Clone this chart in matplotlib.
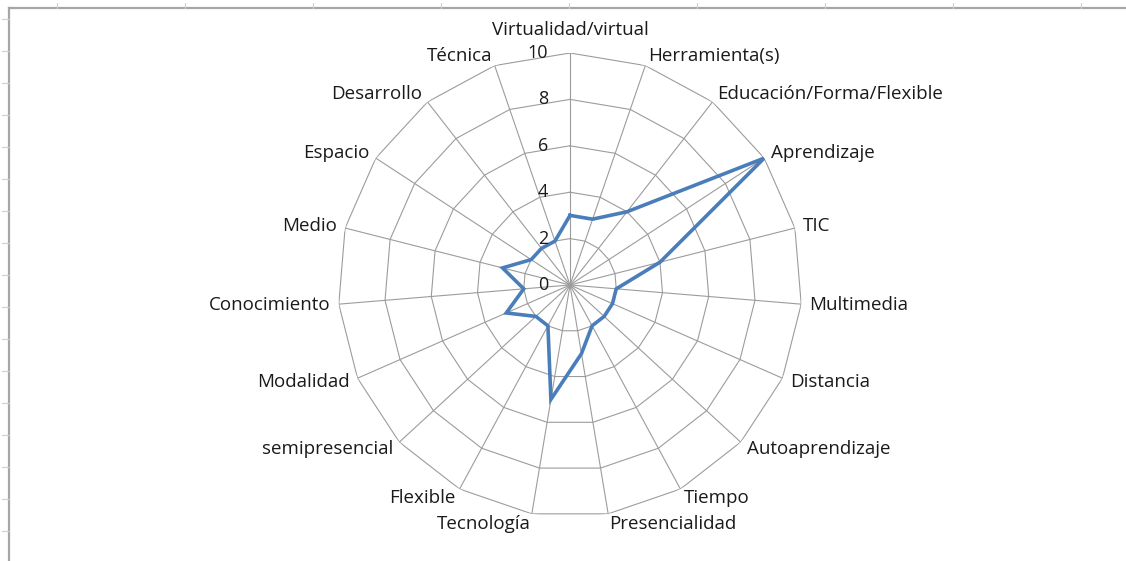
import numpy as np
import matplotlib
matplotlib.use("Agg")
import matplotlib.pyplot as plt
from matplotlib.lines import Line2D

plt.rcParams['font.family'] = ['Open Sans', 'DejaVu Sans']

categories = ["Virtualidad/virtual", "Herramienta(s)", "Educación/Forma/Flexible",
              "Aprendizaje", "TIC", "Multimedia", "Distancia", "Autoaprendizaje",
              "Tiempo", "Presencialidad", "Tecnología", "Flexible", "semipresencial",
              "Modalidad", "Conocimiento", "Medio", "Espacio", "Desarrollo", "Técnica"]
values = [3, 3, 4, 10, 4, 2, 2, 2, 2, 3, 5, 2, 2, 3, 2, 3, 2, 2, 2]
rings = [2, 4, 6, 8, 10]
ring_labels = ["0", "2", "4", "6", "8", "10"]

line_col = "#4a7ebb"
grid_col = "#9c9c9c"
text_col = "#1a1a1a"

n = len(categories)
theta = np.arange(n) * 2 * np.pi / n
theta_c = np.append(theta, theta[0])

fig = plt.figure(figsize=(11.26, 5.61), dpi=100)

# worksheet frame remnants
fig.add_artist(Line2D([9/1126, 1], [1 - 8/561] * 2, color="#a6a6a6", lw=1.6))
fig.add_artist(Line2D([9/1126] * 2, [0, 1 - 8/561], color="#a6a6a6", lw=1.6))
for ty in range(19, 561, 32):
    fig.add_artist(Line2D([2/1126, 9/1126], [1 - ty/561] * 2, color="#cfcfcf", lw=0.8))
for tx in range(57, 1126, 128):
    fig.add_artist(Line2D([tx/1126] * 2, [1 - 3/561, 1 - 8/561], color="#cfcfcf", lw=0.8))

R = 232
cx, cy = 570, 285
ax = fig.add_axes([(cx - R)/1126, (561 - cy - R)/561, 2*R/1126, 2*R/561], projection="polar")
ax.set_theta_zero_location("N")
ax.set_theta_direction(-1)
ax.set_ylim(0, 10)
ax.grid(False)
ax.set_xticks([])
ax.set_yticks([])
ax.spines["polar"].set_visible(False)
ax.patch.set_visible(False)

for r in rings:
    ax.plot(theta_c, [r] * (n + 1), color=grid_col, lw=0.8, zorder=1)
for t in theta:
    ax.plot([t, t], [0, 10], color=grid_col, lw=0.8, zorder=1)

ax.plot(theta_c, values + values[:1], color=line_col, lw=2.6, zorder=3,
        solid_joinstyle="miter")

for i, lab in enumerate(ring_labels):
    ax.annotate(lab, xy=(0, 2 * i), xytext=(-22, 0), textcoords="offset pixels",
                ha="right", va="center", fontsize=13, color=text_col)

for t, lab in zip(theta, categories):
    s, c = np.sin(t), np.cos(t)
    if abs(s) < 0.05:
        ha, va, off = "center", "bottom", (0, 14)
    else:
        ha = "left" if s > 0 else "right"
        va = "center"
        off = (8 * s, 10 * c)
    ax.annotate(lab, xy=(t, 10), xytext=off, textcoords="offset pixels",
                ha=ha, va=va, fontsize=13.5, color=text_col, annotation_clip=False)

fig.savefig("out.png", dpi=100, facecolor="white")
